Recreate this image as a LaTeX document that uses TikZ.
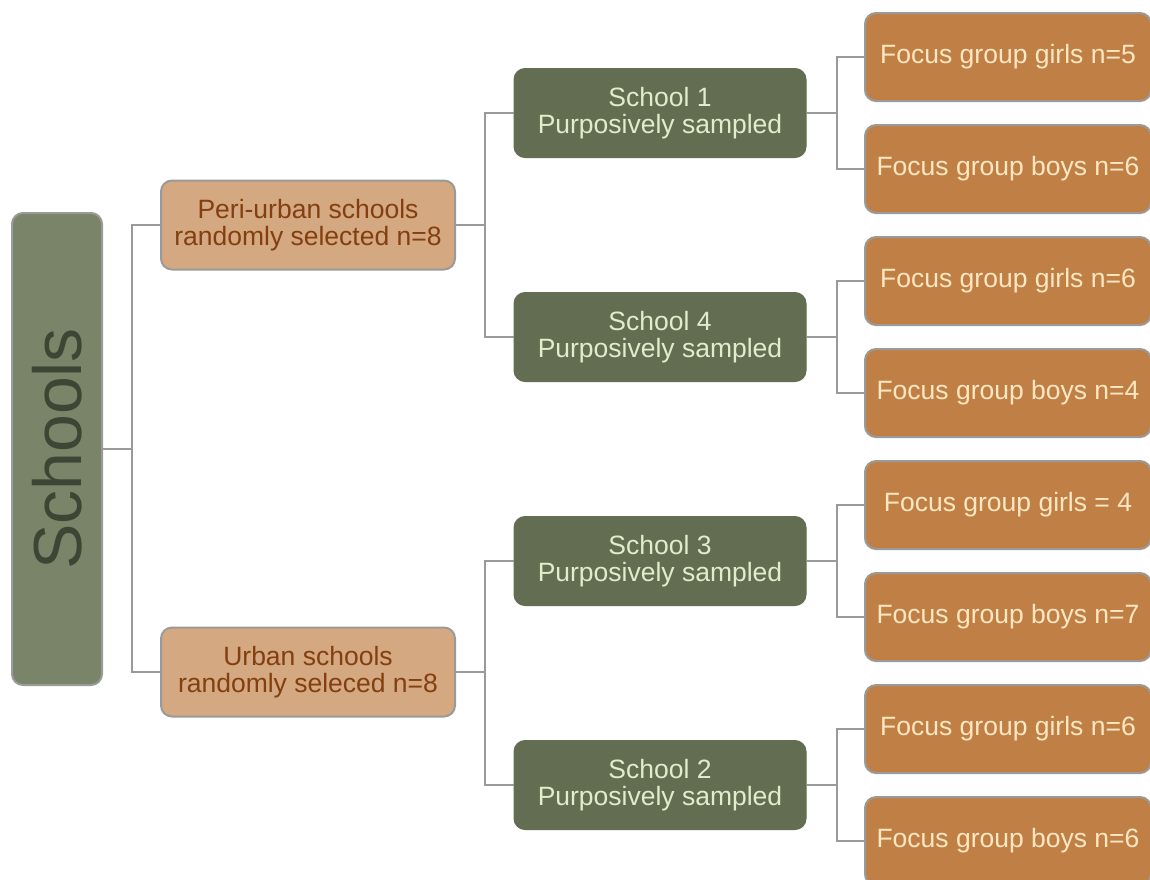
\documentclass[tikz,border=0pt]{standalone}
\usepackage{fontspec}
\setmainfont{Liberation Sans}
\usetikzlibrary{calc}

\definecolor{rootfill}{HTML}{7A8468}
\definecolor{roottext}{HTML}{3D4634}
\definecolor{tanfill}{HTML}{D4A880}
\definecolor{tantext}{HTML}{843F10}
\definecolor{olivefill}{HTML}{636D52}
\definecolor{olivetext}{HTML}{E2ECCB}
\definecolor{orangefill}{HTML}{C08045}
\definecolor{creamtext}{HTML}{FCE7C2}
\definecolor{edgegray}{HTML}{9A9A9A}

\tikzset{
  boxtext/.style={font=\fontsize{26.5}{27.5}\selectfont, align=center, inner sep=0pt},
  rootbox/.style={draw=edgegray, line width=2pt, fill=rootfill, text=roottext,
    rounded corners=11pt, inner sep=0pt, rotate=90,
    minimum width=472pt, minimum height=90pt,
    font=\fontsize{68}{70}\selectfont},
  regionbox/.style={boxtext, draw=edgegray, line width=2pt, fill=tanfill, text=tantext,
    rounded corners=11pt, minimum width=294pt, minimum height=89pt},
  schoolbox/.style={boxtext, draw=olivefill, line width=1pt, fill=olivefill, text=olivetext,
    rounded corners=11pt, minimum width=292pt, minimum height=89pt},
  groupbox/.style={boxtext, draw=edgegray, line width=2pt, fill=orangefill, text=creamtext,
    rounded corners=11pt, minimum width=286pt, minimum height=88pt},
  link/.style={draw=edgegray, line width=2pt},
}

\begin{document}
\begin{tikzpicture}[x=1pt, y=-1pt]
\useasboundingbox (0,0) rectangle (1150,879);

% root
\node[rootbox] (schools) at (57,449) {Schools};

% sampling frames
\node[regionbox] (peri)  at (308,225) {Peri-urban schools\\randomly selected n=8};
\node[regionbox] (urban) at (308,672) {Urban schools\\randomly seleced n=8};

% selected schools
\node[schoolbox] (s1) at (660,113) {School 1\\Purposively sampled};
\node[schoolbox] (s4) at (660,337) {School 4\\Purposively sampled};
\node[schoolbox] (s3) at (660,561) {School 3\\Purposively sampled};
\node[schoolbox] (s2) at (660,785) {School 2\\Purposively sampled};

% focus groups
\node[groupbox] (g1a) at (1008,57)  {Focus group girls n=5};
\node[groupbox] (g1b) at (1008,169) {Focus group boys n=6};
\node[groupbox] (g4a) at (1008,281) {Focus group girls n=6};
\node[groupbox] (g4b) at (1008,393) {Focus group boys n=4};
\node[groupbox] (g3a) at (1008,505) {Focus group girls = 4};
\node[groupbox] (g3b) at (1008,617) {Focus group boys n=7};
\node[groupbox] (g2a) at (1008,729) {Focus group girls n=6};
\node[groupbox] (g2b) at (1008,841) {Focus group boys n=6};

% connectors
\draw[link] (schools.south) -- ++(29,0) coordinate (f0) |- (peri.west);
\draw[link] (f0) |- (urban.west);

\draw[link] (peri.east) -- ++(29,0) coordinate (fp) |- (s1.west);
\draw[link] (fp) |- (s4.west);
\draw[link] (urban.east) -- ++(29,0) coordinate (fu) |- (s3.west);
\draw[link] (fu) |- (s2.west);

\foreach \s/\a/\b in {s1/g1a/g1b, s4/g4a/g4b, s3/g3a/g3b, s2/g2a/g2b}{
  \draw[link] (\s.east) -- ++(30,0) coordinate (f\s) |- (\a.west);
  \draw[link] (f\s) |- (\b.west);
}
\end{tikzpicture}
\end{document}
